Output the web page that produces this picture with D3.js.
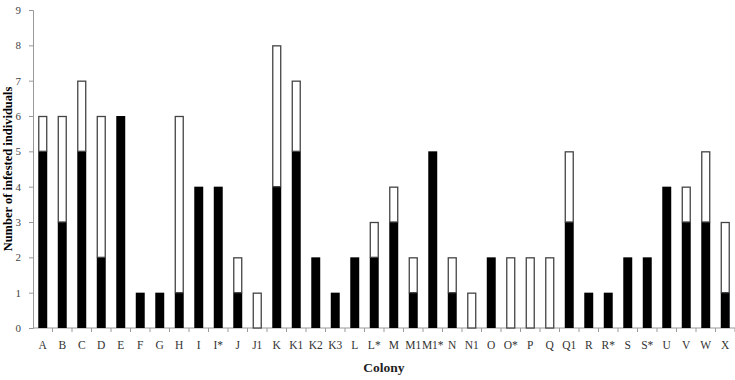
<!DOCTYPE html>
<html>
<head>
<meta charset="utf-8">
<script src="https://cdn.jsdelivr.net/npm/d3@7"></script>
<style>
body { margin: 0; background: #fff; }
text { font-family: "Liberation Serif", "Times New Roman", serif; }
</style>
</head>
<body>
<script>
// colonies on the x axis
var colonies = ['A', 'B', 'C', 'D', 'E', 'F', 'G', 'H', 'I', 'I*', 'J', 'J1', 'K', 'K1', 'K2', 'K3',
    'L', 'L*', 'M', 'M1', 'M1*', 'N', 'N1', 'O', 'O*', 'P', 'Q', 'Q1', 'R', 'R*', 'S', 'S*',
    'U', 'V', 'W', 'X'];
// black part of each bar
var blackVals = [5, 3, 5, 2, 6, 1, 1, 1, 4, 4, 1, 0, 4, 5, 2, 1,
    2, 2, 3, 1, 5, 1, 0, 2, 0, 0, 0, 3, 1, 1, 2, 2,
    4, 3, 3, 1];
// white part stacked on top
var whiteVals = [1, 3, 2, 4, 0, 0, 0, 5, 0, 0, 1, 1, 4, 2, 0, 0,
    0, 1, 1, 1, 0, 1, 1, 0, 2, 2, 2, 2, 0, 0, 0, 0,
    0, 1, 2, 2];
var yTicks = [0, 1, 2, 3, 4, 5, 6, 7, 8, 9];

var width = 735, height = 380;
var margin = { left: 33, right: 0, top: 10, bottom: 52 };

var svg = d3.select('body').append('svg')
    .attr('width', width)
    .attr('height', height);

var x = d3.scaleBand()
    .domain(colonies)
    .range([margin.left, width - margin.right])
    .paddingInner(0.54)
    .paddingOuter(0.27);

var y = d3.scaleLinear()
    .domain([0, 9])
    .range([height - margin.bottom, margin.top]);

var data = colonies.map(function (c, i) {
    return { name: c, black: blackVals[i], white: whiteVals[i] };
});

// axes
var yAxis = svg.append('g')
    .attr('transform', 'translate(' + margin.left + ',0)')
    .call(d3.axisLeft(y).tickValues(yTicks).tickSize(4).tickPadding(8).tickFormat(d3.format('d')));
yAxis.select('.domain').attr('stroke', '#999');
yAxis.selectAll('.tick line').attr('stroke', '#999');
yAxis.selectAll('.tick text').attr('fill', '#444').style('font-size', '11px');

var xAxisG = svg.append('g')
    .attr('transform', 'translate(0,' + y(0) + ')');
xAxisG.append('line')
    .attr('x1', margin.left).attr('x2', width)
    .attr('stroke', '#999');
// ticks between categories
var step = x.step();
xAxisG.selectAll('.sep')
    .data(colonies)
    .enter()
    .append('line')
    .attr('x1', function (d) { return x(d) - (step - x.bandwidth()) / 2 + step; })
    .attr('x2', function (d) { return x(d) - (step - x.bandwidth()) / 2 + step; })
    .attr('y1', 0).attr('y2', 4)
    .attr('stroke', '#999');
xAxisG.selectAll('.lab')
    .data(colonies)
    .enter()
    .append('text')
    .attr('x', function (d) { return x(d) + x.bandwidth() / 2; })
    .attr('y', 21)
    .attr('text-anchor', 'middle')
    .attr('fill', '#333')
    .style('font-size', '11.5px')
    .text(function (d) { return d; });

// bars
var bars = svg.append('g');
bars.selectAll('.black')
    .data(data.filter(function (d) { return d.black > 0; }))
    .enter()
    .append('rect')
    .attr('x', function (d) { return x(d.name); })
    .attr('y', function (d) { return y(d.black); })
    .attr('width', x.bandwidth())
    .attr('height', function (d) { return y(0) - y(d.black); })
    .attr('fill', '#000');

bars.selectAll('.white')
    .data(data.filter(function (d) { return d.white > 0; }))
    .enter()
    .append('rect')
    .attr('x', function (d) { return x(d.name) + 0.5; })
    .attr('y', function (d) { return y(d.black + d.white) + 0.5; })
    .attr('width', x.bandwidth() - 1)
    .attr('height', function (d) { return y(d.black) - y(d.black + d.white) - 0.5; })
    .attr('fill', '#fff')
    .attr('stroke', '#444')
    .attr('stroke-width', 1.3);

// axis titles
svg.append('text')
    .attr('transform', 'translate(9,' + y(4.5) + ') rotate(-90)')
    .attr('text-anchor', 'middle')
    .attr('dominant-baseline', 'middle')
    .style('font-size', '12.5px')
    .style('font-weight', 'bold')
    .text('Number of infested individuals');

svg.append('text')
    .attr('x', 384)
    .attr('y', 372)
    .attr('text-anchor', 'middle')
    .style('font-size', '13.5px')
    .style('font-weight', 'bold')
    .attr('fill', '#222')
    .text('Colony');
</script>
</body>
</html>
